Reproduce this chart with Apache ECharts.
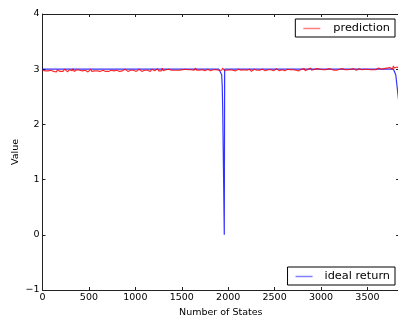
<!DOCTYPE html>
<html>
<head>
<meta charset="utf-8">
<script src="https://cdn.jsdelivr.net/npm/echarts@6/dist/echarts.min.js"></script>
<style>html,body{margin:0;padding:0;background:#fff;}#c{width:398px;height:324px;}</style>
</head>
<body>
<div id="c"></div>
<script>
// prediction sampled every 10 states
const predictionStep = 10;
const prediction = [
  2.98,2.96,2.99,2.97,2.95,2.98,2.97,3.00,2.96,2.98,2.97,2.99,2.96,2.98,2.97,2.95,2.99,2.97,2.98,2.96,
  2.99,2.97,2.96,2.98,3.00,2.97,2.98,2.95,2.97,2.99,2.96,2.98,2.97,3.01,2.96,2.98,2.97,2.99,2.96,2.97,
  2.98,2.96,2.99,2.97,3.00,2.96,2.98,2.97,2.99,2.95,2.98,2.97,3.00,2.96,2.98,2.99,2.97,2.96,2.99,2.97,
  2.97,2.99,2.96,2.98,2.95,2.98,2.97,3.00,2.96,2.98,2.97,2.96,2.99,2.97,2.98,2.95,2.98,2.97,2.99,2.96,
  2.98,2.97,3.01,2.96,2.98,2.99,2.97,2.96,2.98,3.00,2.97,2.98,2.96,2.99,2.97,2.98,3.00,2.96,2.98,2.97,
  2.99,2.96,2.98,2.97,3.00,2.97,2.98,2.96,2.99,2.97,2.98,3.01,2.96,2.98,2.97,2.99,2.96,2.98,3.00,2.97,
  2.98,2.97,2.99,2.96,3.01,2.97,2.98,2.99,2.97,3.02,2.97,2.98,2.96,2.99,2.98,2.97,3.00,2.97,2.99,2.98,
  2.97,2.99,2.98,3.00,2.97,2.98,2.96,2.99,2.98,3.01,2.97,2.99,2.98,2.97,3.00,2.98,2.97,2.99,2.98,2.97,
  2.99,2.97,3.00,2.98,2.97,3.02,2.98,2.99,2.97,2.98,3.00,2.97,2.99,2.98,3.01,2.97,2.99,2.98,3.00,2.98,
  2.99,2.97,3.00,2.98,2.99,3.01,2.98,2.99,2.97,3.00,2.98,2.99,3.00,2.98,3.02,2.99,2.98,3.00,2.99,2.98,
  3.00,2.98,2.99,2.97,3.00,2.98,2.99,3.00,2.97,2.99,2.98,3.00,2.97,2.99,2.98,3.00,2.98,2.99,2.97,3.00,
  2.98,2.99,2.97,3.00,2.98,2.96,2.99,2.98,3.00,2.97,2.99,2.98,3.00,2.97,2.98,2.99,2.97,3.00,2.98,2.99,
  2.97,3.00,2.98,2.99,3.01,2.97,2.99,2.98,3.00,2.97,2.99,2.98,3.01,2.98,2.99,2.97,3.00,2.98,2.99,2.98,
  3.00,2.97,2.99,2.98,3.00,2.98,2.97,2.99,3.00,2.98,2.99,2.97,3.00,2.98,2.99,3.01,2.97,2.99,2.98,3.00,
  2.98,2.99,3.01,2.97,2.99,2.98,3.00,2.98,2.99,3.02,2.98,2.99,2.97,3.00,2.99,2.98,3.01,2.98,2.99,3.00,
  2.98,3.00,2.99,3.01,2.98,2.99,3.00,2.98,3.01,2.99,2.98,3.00,2.99,3.02,2.98,3.00,2.99,2.98,3.01,2.99,
  3.00,2.98,2.99,3.01,2.98,3.00,2.99,2.97,3.00,2.99,3.01,2.98,3.00,2.99,2.98,3.01,2.99,3.00,2.98,3.00,
  2.99,3.01,2.98,3.00,2.99,3.01,2.98,3.00,3.02,2.99,3.00,2.98,3.01,2.99,3.00,3.02,2.99,3.01,3.00,2.99,
  3.01,3.00,3.02,2.99,3.01,3.00,3.02,3.00,3.01,3.03,3.00,3.02,3.01,3.00,3.03,3.01,3.02,3.00,3.06,3.02,
  3.03,3.01,3.04,3.02
];
// ideal return (state, value)
const idealStates = [0, 1900, 1920, 1930, 1936, 1941, 1947, 1953, 1958, 1962, 3780, 3795, 3805, 3815, 3825, 3835, 3840];
const idealValues = [3.0, 3.0, 2.98, 2.9, 2.7, 2.3, 1.5, 0.7, 0.0, 3.0, 3.0, 2.97, 2.9, 2.75, 2.6, 2.45, 2.4];

const xTicks = [0, 500, 1000, 1500, 2000, 2500, 3000, 3500];
const yTicks = [-1, 0, 1, 2, 3, 4];

const predData = prediction.map((v, i) => [i * predictionStep, v]);
const idealData = idealStates.map((s, i) => [s, idealValues[i]]);

const FONT = 'DejaVu Sans';
const axisLine = { show: true, onZero: false, lineStyle: { color: '#222', width: 1 } };
const tick = { show: true, inside: true, length: 3, lineStyle: { color: '#222' } };
const fmt = v => String(v).replace('-', '\u2212');

const chart = echarts.init(document.getElementById('c'), null, { renderer: 'canvas' });
chart.setOption({
  animation: false,
  backgroundColor: '#fff',
  grid: { left: 42.5, right: -1, top: 14, bottom: 34, containLabel: false, outerBoundsMode: 'none' },
  xAxis: [
    { type: 'value', min: 0, max: 3840, interval: 500, position: 'bottom',
      name: 'Number of States', nameLocation: 'middle', nameGap: 18, nameMoveOverlap: false,
      nameTextStyle: { fontFamily: FONT, fontSize: 9.5, color: '#000' },
      axisLine, axisTick: tick, splitLine: { show: false },
      axisLabel: { fontFamily: FONT, fontSize: 9.5, color: '#000', margin: 3, formatter: fmt, showMaxLabel: false } },
    { type: 'value', min: 0, max: 3840, interval: 500, position: 'top',
      axisLine, axisTick: tick, splitLine: { show: false }, axisLabel: { show: false } }
  ],
  yAxis: [
    { type: 'value', min: -1, max: 4, interval: 1, position: 'left',
      name: 'Value', nameLocation: 'middle', nameGap: 22, nameMoveOverlap: false,
      nameTextStyle: { fontFamily: FONT, fontSize: 9.5, color: '#000' },
      axisLine, axisTick: tick, splitLine: { show: false },
      axisLabel: { fontFamily: FONT, fontSize: 9.5, color: '#000', margin: 3, formatter: fmt } },
    { type: 'value', min: -1, max: 4, interval: 1, position: 'right',
      axisLine, axisTick: tick, splitLine: { show: false }, axisLabel: { show: false } }
  ],
  legend: [
    { data: ['prediction'], right: 3, top: 19, orient: 'vertical',
      icon: 'rect', itemWidth: 17, itemHeight: 1.5,
      itemStyle: { opacity: 0.5 },
      padding: [4, 5, 3, 8], borderColor: '#000', borderWidth: 1, borderRadius: 0,
      textStyle: { fontFamily: FONT, fontSize: 11.3, color: '#000', padding: [0, 0, 0, 8] } },
    { data: ['ideal return'], right: 3, bottom: 39, orient: 'vertical',
      icon: 'rect', itemWidth: 17, itemHeight: 1.5,
      itemStyle: { opacity: 0.5 },
      padding: [4, 5, 3, 8], borderColor: '#000', borderWidth: 1, borderRadius: 0,
      textStyle: { fontFamily: FONT, fontSize: 11.3, color: '#000', padding: [0, 0, 0, 7] } }
  ],
  series: [
    { name: 'ideal return', type: 'line', data: idealData, showSymbol: false, color: '#0000ff',
      lineStyle: { width: 1.2, color: '#0000ff', opacity: 0.8 }, z: 2 },
    { name: 'prediction', type: 'line', data: predData, showSymbol: false, color: '#ff0000',
      lineStyle: { width: 1.1, color: '#ff0000', opacity: 0.85 }, z: 3 }
  ]
});
</script>
</body>
</html>
